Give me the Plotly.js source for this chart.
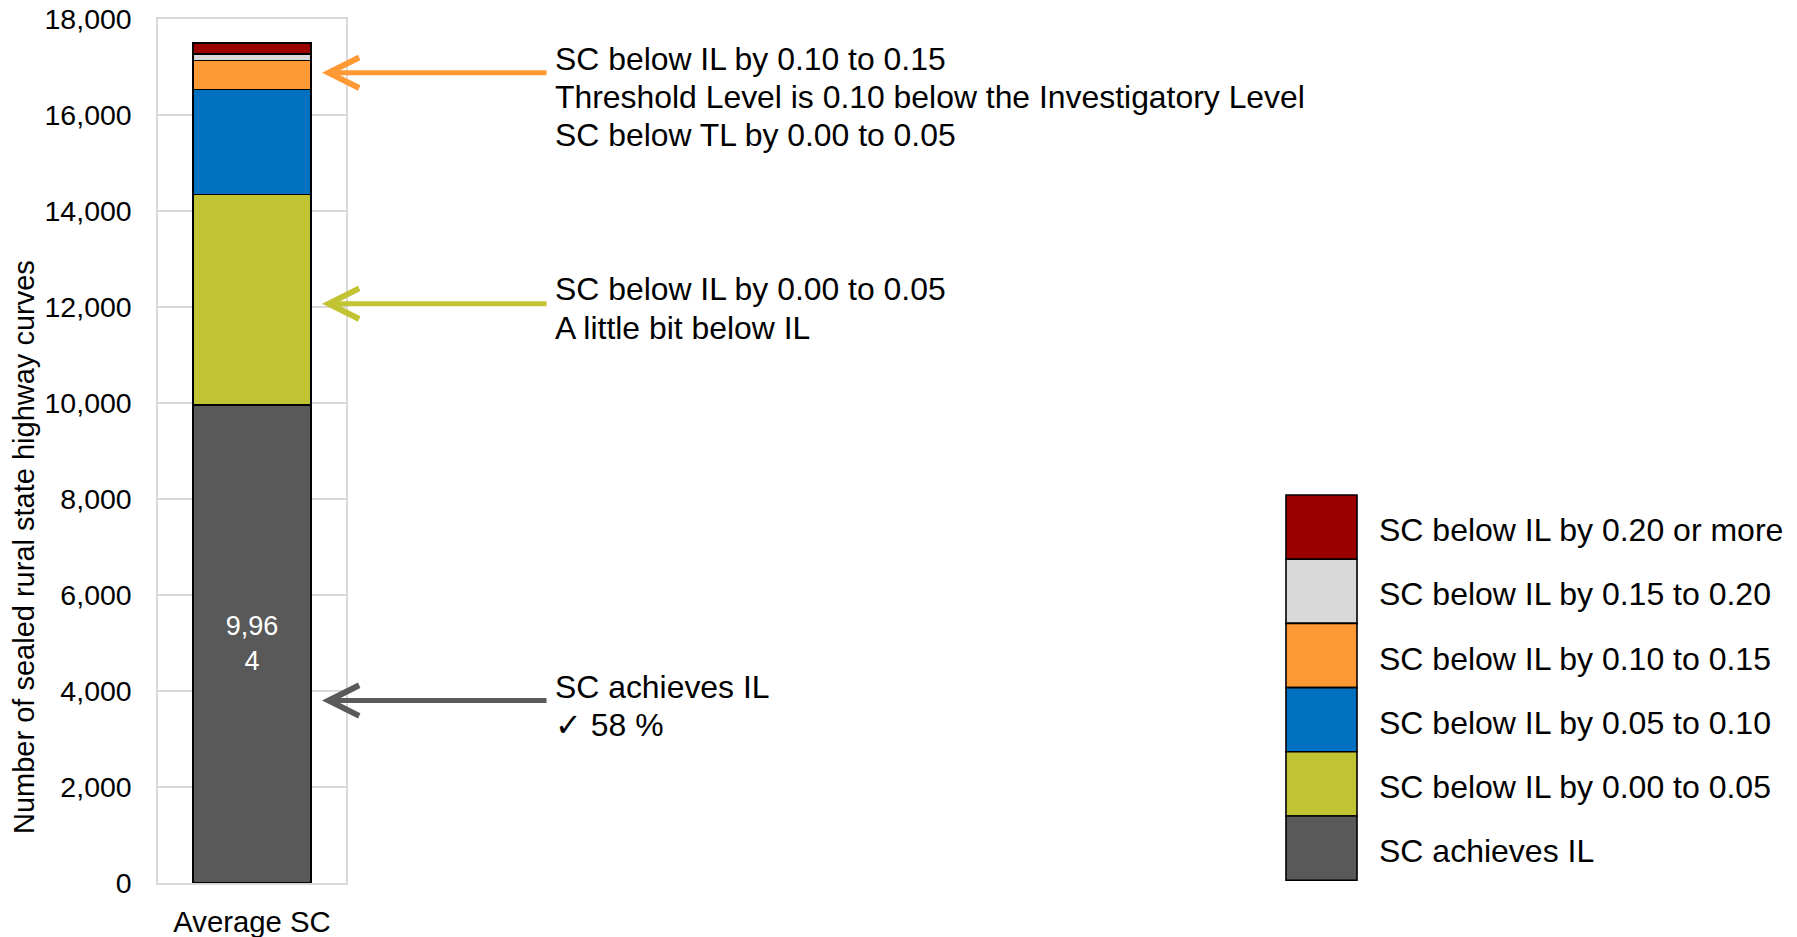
<!DOCTYPE html>
<html><head><meta charset="utf-8">
<script src="https://cdn.plot.ly/plotly-3.0.1.min.js"></script>
<style>html,body{margin:0;padding:0;background:#fff}#chart{width:1797px;height:937px}</style>
</head><body><div id="chart"></div>
<script>
// ---- data ----
const categories = ['Average SC'];
const seriesNames = [
  'SC achieves IL',
  'SC below IL by 0.00 to 0.05',
  'SC below IL by 0.05 to 0.10',
  'SC below IL by 0.10 to 0.15',
  'SC below IL by 0.15 to 0.20',
  'SC below IL by 0.20 or more'
];
const achievesIL   = [9964];
const below000to005 = [4380];
const below005to010 = [2190];
const below010to015 = [600];
const below015to020 = [140];
const below020plus  = [220];
const seriesColors = ['#595959', '#c2c332', '#0070c0', '#ff9933', '#d9d9d9', '#9b0000'];
const yTickValues = [0, 2000, 4000, 6000, 8000, 10000, 12000, 14000, 16000, 18000];
const yAxisTitle = 'Number of sealed rural state highway curves';
const orangeCalloutLines = ['SC below IL by 0.10 to 0.15', 'Threshold Level is 0.10 below the Investigatory Level', 'SC below TL by 0.00 to 0.05'];
const yellowCalloutLines = ['SC below IL by 0.00 to 0.05', 'A little bit below IL'];
const greyCalloutLines = ['SC achieves IL', '\u2713 58 %'];

// ---- layout helpers ----
const FONT = 'Arial, "Liberation Sans", sans-serif';
const W = 1797, H = 937, L = 158, T = 19, B = 54, PW = 188;
const paperW = W - L, paperH = H - T - B;
const px = X => (X - L) / paperW;
const py = Y => (H - B - Y) / paperH;

const seriesValues = [achievesIL, below000to005, below005to010, below010to015, below015to020, below020plus];
const fmt = v => v.toLocaleString('en-US');
const wrapLabel = s => s.slice(0, -1) + '<br>' + s.slice(-1);

const traces = seriesValues.map((vals, i) => ({
  type: 'bar',
  x: categories,
  y: vals,
  name: seriesNames[i],
  width: 0.63,
  marker: {color: seriesColors[i], line: {color: '#000', width: 1.6}},
  text: i === 0 ? vals.map(v => wrapLabel(fmt(v))) : undefined,
  textposition: i === 0 ? 'inside' : 'none',
  insidetextanchor: 'middle',
  textangle: 0,
  constraintext: 'none',
  textfont: {family: FONT, size: 27, color: '#ffffff'},
  hoverinfo: 'skip'
}));

const annotations = [];
// y-axis title
annotations.push({
  xref: 'paper', yref: 'paper', x: px(24), y: py(547),
  text: yAxisTitle, textangle: -90, showarrow: false,
  xanchor: 'center', yanchor: 'middle',
  font: {family: FONT, size: 29, color: '#000'}
});
// arrows
const arrowSpecs = [
  {y: 16880, color: '#ff9933'},
  {y: 12070, color: '#c2c332'},
  {y: 3800, color: '#5a5a5a'}
];
arrowSpecs.forEach(a => annotations.push({
  xref: 'paper', yref: 'y', x: px(322), y: a.y, text: '',
  showarrow: true, arrowhead: 5, arrowsize: 1.2, arrowwidth: 5, arrowcolor: a.color,
  ax: 226, ay: 0, standoff: 0, startstandoff: 0
}));
// callout texts
function addLines(lines, ys) {
  lines.forEach((t, i) => annotations.push({
    xref: 'paper', yref: 'paper', x: px(553), y: py(ys[i]),
    xanchor: 'left', yanchor: 'middle', showarrow: false, text: t,
    font: {family: FONT, size: 31.9, color: '#000'}
  }));
}
addLines(orangeCalloutLines, [59, 97, 135]);
addLines(yellowCalloutLines, [289, 328]);
addLines(greyCalloutLines, [687, 725]);

// custom legend (top row = last series)
const shapes = [];
const rowTop = 495, rowH = 64.2;
for (let r = 0; r < seriesNames.length; r++) {
  const i = seriesNames.length - 1 - r;
  const y0 = rowTop + r * rowH, y1 = y0 + rowH;
  shapes.push({
    type: 'rect', xref: 'paper', yref: 'paper',
    x0: px(1286), x1: px(1357), y0: py(y1), y1: py(y0),
    fillcolor: seriesColors[i], line: {color: '#000', width: 1.6}
  });
  annotations.push({
    xref: 'paper', yref: 'paper', x: px(1377), y: py((y0 + y1) / 2 + 3),
    xanchor: 'left', yanchor: 'middle', showarrow: false, text: seriesNames[i],
    font: {family: FONT, size: 32, color: '#000'}
  });
}

const layout = {
  width: W, height: H,
  margin: {l: L, r: 0, t: T, b: B, pad: 0},
  paper_bgcolor: '#fff', plot_bgcolor: '#fff',
  barmode: 'stack',
  showlegend: false,
  font: {family: FONT, color: '#000'},
  xaxis: {
    domain: [0, PW / paperW],
    type: 'category',
    range: [-0.5, 0.5],
    showgrid: false,
    showline: true, mirror: true, linecolor: '#d9d9d9', linewidth: 1.6,
    ticks: '', ticklabelstandoff: 12,
    tickfont: {family: FONT, size: 29.3, color: '#000'},
    fixedrange: true
  },
  yaxis: {
    range: [0, 18000],
    tickvals: yTickValues,
    ticktext: yTickValues.map(fmt),
    showgrid: true, gridcolor: '#d9d9d9', gridwidth: 1.6,
    showline: true, mirror: true, linecolor: '#d9d9d9', linewidth: 1.6,
    zeroline: false,
    ticks: '', ticklabelstandoff: 19,
    tickfont: {family: FONT, size: 28.5, color: '#000'},
    fixedrange: true
  },
  annotations: annotations,
  shapes: shapes
};

Plotly.newPlot('chart', traces, layout, {displayModeBar: false, staticPlot: true});
</script>
</body></html>
